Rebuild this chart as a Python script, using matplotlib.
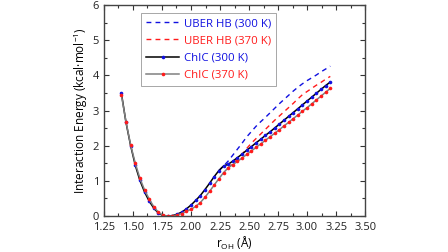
import numpy as np
import matplotlib
matplotlib.use("Agg")
import matplotlib.pyplot as plt
from matplotlib.ticker import MultipleLocator, FormatStrFormatter

plt.rcParams["font.family"] = ["Open Sans", "DejaVu Sans"]
plt.rcParams["font.size"] = 8

# r_OH grid (Angstrom) for the ChIC curves
r = np.round(np.arange(1.40, 3.2001, 0.04), 2)

chic_300 = [3.50, 2.66, 2.00, 1.44, 1.01, 0.68, 0.42, 0.22, 0.08, 0.01,
            0.00, 0.01, 0.05, 0.11, 0.20, 0.31, 0.44, 0.58, 0.75, 0.93,
            1.12, 1.29, 1.42, 1.47, 1.56, 1.66, 1.76, 1.87, 1.97, 2.08,
            2.18, 2.29, 2.39, 2.50, 2.61, 2.72, 2.83, 2.94, 3.05, 3.16,
            3.27, 3.38, 3.49, 3.60, 3.71, 3.81]

chic_370 = [3.45, 2.68, 2.02, 1.50, 1.07, 0.74, 0.48, 0.26, 0.10, 0.02,
            0.00, 0.00, 0.03, 0.07, 0.13, 0.19, 0.27, 0.38, 0.53, 0.70,
            0.88, 1.06, 1.23, 1.37, 1.46, 1.55, 1.65, 1.75, 1.85, 1.95,
            2.05, 2.15, 2.25, 2.35, 2.45, 2.56, 2.66, 2.77, 2.87, 2.98,
            3.08, 3.19, 3.30, 3.41, 3.52, 3.63]

# UBER HB curves, only where they leave the ChIC curves
r_uber_300 = [2.24, 2.28, 2.32, 2.36, 2.40, 2.44, 2.48, 2.52, 2.56, 2.60,
              2.64, 2.68, 2.72, 2.76, 2.80, 2.84, 2.88, 2.92, 2.96, 3.00,
              3.04, 3.08, 3.12, 3.16, 3.20]
uber_300 = [1.29, 1.42, 1.56, 1.73, 1.90, 2.07, 2.25, 2.40, 2.55, 2.68,
            2.80, 2.93, 3.06, 3.19, 3.31, 3.43, 3.55, 3.66, 3.76, 3.85,
            3.93, 4.01, 4.10, 4.18, 4.26]

r_uber_370 = [2.32, 2.36, 2.40, 2.44, 2.48, 2.52, 2.56, 2.60, 2.64, 2.68,
              2.72, 2.76, 2.80, 2.84, 2.88, 2.92, 2.96, 3.00, 3.04, 3.08,
              3.12, 3.16, 3.20]
uber_370 = [1.37, 1.50, 1.60, 1.75, 1.92, 2.07, 2.20, 2.33, 2.46, 2.59,
            2.72, 2.84, 2.96, 3.08, 3.20, 3.33, 3.45, 3.54, 3.63, 3.72,
            3.80, 3.89, 3.97]

fig = plt.figure(figsize=(4.48, 2.52), dpi=100)
ax = fig.add_axes([0.232, 0.143, 0.583, 0.837])

dash = (3.5, 3)
ax.plot(r_uber_300, uber_300, color="#1010e0", lw=1.0, dashes=dash, label="UBER HB (300 K)")
ax.plot(r_uber_370, uber_370, color="#ff1a1a", lw=1.0, dashes=dash, label="UBER HB (370 K)")
ax.plot(r, chic_300, color="black", lw=1.1, marker="o", ms=2.6, mew=0, mfc="#1010e0",
        label="ChIC (300 K)")
ax.plot(r, chic_370, color="#808080", lw=1.1, marker="o", ms=2.6, mew=0, mfc="#ff1a1a",
        label="ChIC (370 K)")

ax.set_xlim(1.25, 3.50)
ax.set_ylim(0, 6)
ax.xaxis.set_major_locator(MultipleLocator(0.25))
ax.xaxis.set_minor_locator(MultipleLocator(0.125))
ax.xaxis.set_major_formatter(FormatStrFormatter("%.2f"))
ax.yaxis.set_major_locator(MultipleLocator(1))
ax.yaxis.set_minor_locator(MultipleLocator(0.5))
ax.tick_params(which="both", direction="in", top=True, right=True, colors="#333333",
               labelcolor="#222222", width=0.8)
ax.tick_params(which="major", length=3.5)
ax.tick_params(which="minor", length=2)
ax.tick_params(axis="x", which="major", pad=4)
ax.tick_params(axis="y", which="major", pad=3.5)
for s in ax.spines.values():
    s.set_color("#444444")
    s.set_linewidth(1.0)

ax.set_xlabel(r"r$_{\mathregular{OH}}$ (Å)", fontsize=8.5, labelpad=2)
ax.set_ylabel("Interaction Energy (kcal·mol$^{\\mathregular{-1}}$)", fontsize=8.5, labelpad=2)

leg = ax.legend(loc="upper left", bbox_to_anchor=(0.142, 0.962), frameon=True, fancybox=False,
                edgecolor="#999999", framealpha=1, fontsize=8.2, handlelength=2.9,
                handletextpad=0.4, labelspacing=0.55, borderpad=0.45, borderaxespad=0)
leg.get_frame().set_linewidth(0.6)
for txt, c in zip(leg.get_texts(), ["#1010e0", "#ff1a1a", "#1010e0", "#ff1a1a"]):
    txt.set_color(c)

fig.savefig("out.png", dpi=100)
